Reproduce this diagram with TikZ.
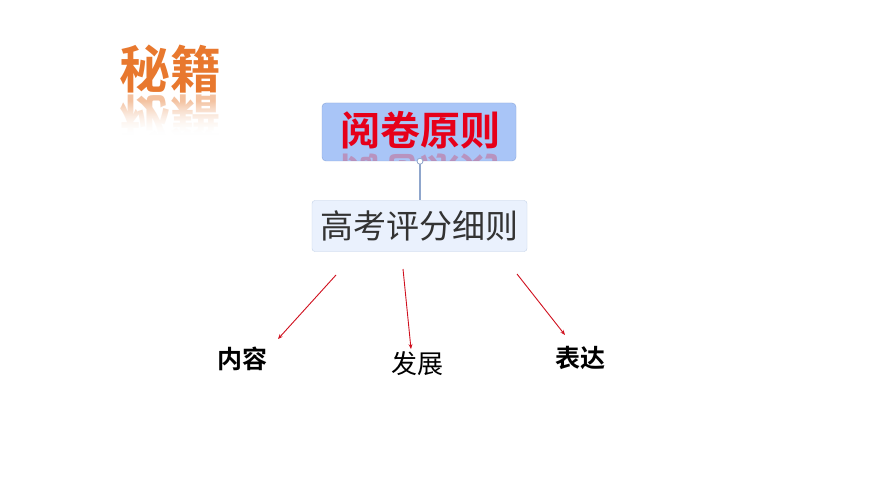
\documentclass[tikz,border=0pt]{standalone}
\usepackage{fontspec}
\newfontfamily\cjk{Noto Sans CJK SC}[BoldFont={Noto Sans CJK SC Bold}]
\usetikzlibrary{arrows.meta}
\definecolor{orangeT}{HTML}{E8782E}
\definecolor{redT}{HTML}{E6001A}
\definecolor{boxA}{HTML}{A9C5F7}
\definecolor{boxAline}{HTML}{8AA6DA}
\definecolor{boxB}{HTML}{EAF1FD}
\definecolor{boxBline}{HTML}{C3D2E8}
\definecolor{linkC}{HTML}{8FA6CC}
\definecolor{arrC}{HTML}{D0101E}
\tikzset{
  lbl/.style={font=\cjk\fontsize{22}{24}\selectfont, text=black, inner sep=0pt},
  redarrow/.style={draw=arrC, line width=0.9pt, -{Stealth[length=5pt,width=4pt]}},
}
\begin{document}
\begin{tikzpicture}[x=1pt,y=-1pt]
\useasboundingbox (0,0) rectangle (870,489);
\fill[white] (0,0) rectangle (870,489);
% title
\node[inner sep=0pt, font=\cjk\bfseries\fontsize{51}{53}\selectfont, text=orangeT] (title) at (170,69) {秘籍};
\node[inner sep=0pt, font=\cjk\bfseries\fontsize{51}{53}\selectfont, text=orangeT, opacity=0.45, yscale=-1] (titler) at (170,119) {秘籍};
\foreach \i in {0,...,35}{
  \fill[white, opacity={min(1,\i/35)}] (110,{100+\i}) rectangle (230,{101.6+\i});
}
\fill[white] (110,135) rectangle (230,150);
% main box
\node[draw=boxAline, fill=boxA, rounded corners=4pt, minimum width=194pt, minimum height=58pt, inner sep=0pt] (main) at (419,132) {};
\begin{scope}
\clip[rounded corners=4pt] (322.5,103) rectangle (515.5,161);
\node[inner sep=0pt, font=\cjk\bfseries\fontsize{40}{42}\selectfont, text=redT, opacity=0.25, yscale=-1] (mainr) at (420,173) {阅卷原则};
\end{scope}
\node[inner sep=0pt, font=\cjk\bfseries\fontsize{40}{42}\selectfont, text=redT] (maint) at (420,130) {阅卷原则};
% sub box
\node[draw=boxBline, fill=boxB, rounded corners=3pt, minimum width=215pt, minimum height=51pt, inner sep=0pt, font=\cjk\fontsize{33}{35}\selectfont, text=black!80] (sub) at (419.5,226) {高考评分细则};
\draw[linkC, line width=1.2pt] (main.south) ++(1,0) coordinate (ms) -- (ms |- sub.north);
\draw[linkC, fill=white, line width=0.8pt] (ms) circle (3pt);
% labels
\node[lbl, font=\cjk\bfseries\fontsize{25}{27}\selectfont] (nr) at (242,359) {内容};
\node[lbl, font=\cjk\fontsize{26}{28}\selectfont] (fz) at (417,364) {发展};
\node[lbl, font=\cjk\bfseries\fontsize{25}{27}\selectfont] (bd) at (580,358) {表达};
% arrows
\coordinate (a1) at (336,275); \coordinate (b1) at (278,339);
\coordinate (a2) at (403,269); \coordinate (b2) at (411,349);
\coordinate (a3) at (517,274); \coordinate (b3) at (565,335);
\draw[redarrow] (a1) -- (b1);
\draw[redarrow] (a2) -- (b2);
\draw[redarrow] (a3) -- (b3);
\end{tikzpicture}
\end{document}
